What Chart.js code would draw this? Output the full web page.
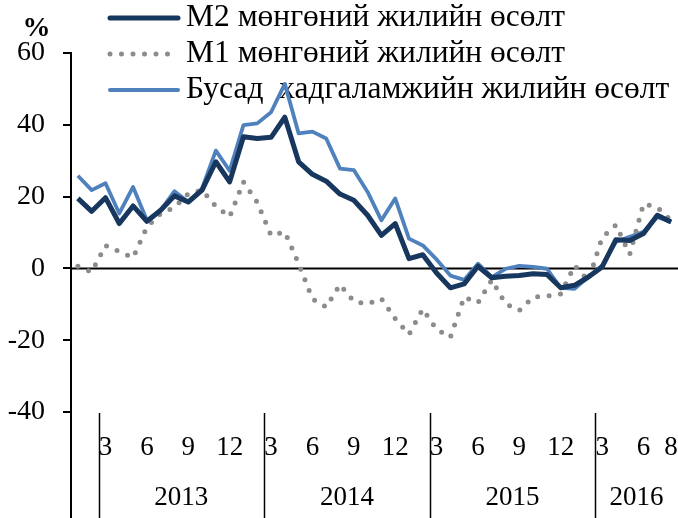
<!DOCTYPE html>
<html>
<head>
<meta charset="utf-8">
<script src="https://cdn.jsdelivr.net/npm/chart.js@4.4.1/dist/chart.umd.min.js"></script>
<style>
  html, body { margin: 0; padding: 0; background: #fff; }
</style>
</head>
<body>
<canvas id="myChart" width="678" height="518"></canvas>
<script>
// months Jan 2013 .. Aug 2016
var months = [1, 2, 3, 4, 5, 6, 7, 8, 9, 10, 11, 12,
              1, 2, 3, 4, 5, 6, 7, 8, 9, 10, 11, 12,
              1, 2, 3, 4, 5, 6, 7, 8, 9, 10, 11, 12,
              1, 2, 3, 4, 5, 6, 7, 8];
var monthTicks = ["", "", "3", "", "", "6", "", "", "9", "", "", "12",
                  "", "", "3", "", "", "6", "", "", "9", "", "", "12",
                  "", "", "3", "", "", "6", "", "", "9", "", "", "12",
                  "", "", "3", "", "", "6", "", "8"];
var years = ["2013", "2014", "2015", "2016"];
var yTicks = [-40, -20, 0, 20, 40, 60];

var seriesNames = ["М2 мөнгөний жилийн өсөлт", "М1 мөнгөний жилийн өсөлт", "Бусад  хадгаламжийн жилийн өсөлт"];

var m2 = [19.5, 15.9, 19.7, 12.5, 17.4, 13.1, 16.2, 20.2, 18.5, 21.8, 29.7, 24.1,
          36.7, 36.2, 36.5, 42.1, 29.7, 26.2, 24.3, 20.7, 19.0, 14.8, 9.2, 12.5,
          2.7, 3.8, -1.3, -5.4, -4.3, 0.6, -2.6, -2.2, -2.0, -1.5, -1.7, -5.4,
          -4.7, -2.4, 0.4, 8.0, 7.8, 9.7, 14.8, 12.9];
var m1 = [0.6, -1.0, 6.4, 4.7, 3.0, 11.5, 15.3, 17.0, 20.8, 21.8, 17.3, 14.4,
          24.1, 18.4, 9.2, 10.2, 1.3, -8.5, -10.8, -4.5, -9.2, -9.9, -8.4, -14.0,
          -18.4, -11.3, -17.0, -19.2, -8.0, -9.6, -3.2, -9.9, -11.7, -8.0, -7.7, -7.1,
          0.8, -3.4, 8.6, 12.1, 3.9, 18.0, 17.0, 13.4];
var other = [25.8, 21.8, 23.7, 15.3, 22.7, 13.4, 16.2, 21.5, 18.5, 22.3, 32.8, 27.2,
             39.9, 40.4, 43.5, 51.4, 37.6, 38.1, 36.2, 27.8, 27.4, 21.3, 13.4, 19.5,
             8.3, 6.4, 2.5, -2.0, -3.2, 1.3, -2.4, -0.1, 0.7, 0.4, -0.1, -5.4,
             -5.7, -2.4, 0.8, 7.4, 8.8, 10.2, 14.3, 12.9];

var FONT = "'Liberation Serif', 'Times New Roman', serif";
var darkBlue = "#17375E";
var gray = "#8C8C8C";
var lightBlue = "#4F81BD";

// extra drawing: zero line, legend, year row, separators
var extras = {
    id: "extras",
    beforeDatasetsDraw: function (chart) {
        var ctx = chart.ctx;
        var area = chart.chartArea;
        var y0 = chart.scales.y.getPixelForValue(0);
        ctx.save();
        ctx.strokeStyle = "#000";
        ctx.lineWidth = 2;
        ctx.beginPath();
        ctx.moveTo(area.left, y0);
        ctx.lineTo(area.right, y0);
        ctx.stroke();

        //legend
        var rows = [17, 53, 89];
        var styles = [
            { color: darkBlue, width: 5, dash: [] },
            { color: gray, width: 5, dash: [0, 11.5] },
            { color: lightBlue, width: 4, dash: [] }
        ];
        ctx.font = "31.5px " + FONT;
        ctx.textBaseline = "middle";
        ctx.textAlign = "left";
        for (var i = 0; i < 3; i++) {
            ctx.strokeStyle = styles[i].color;
            ctx.lineWidth = styles[i].width;
            ctx.lineCap = "round";
            ctx.setLineDash(styles[i].dash);
            ctx.beginPath();
            ctx.moveTo(110, rows[i] + 1);
            ctx.lineTo(178, rows[i] + 1);
            ctx.stroke();
            ctx.fillStyle = "#000";
            ctx.fillText(seriesNames[i], 186, rows[i] + 1);
        }
        ctx.restore();
    },
    afterDraw: function (chart) {
        var ctx = chart.ctx;
        var area = chart.chartArea;
        var xs = chart.scales.x;
        ctx.save();
        ctx.strokeStyle = "#000";
        ctx.lineWidth = 2;
        ctx.beginPath();
        ctx.moveTo(area.left, area.bottom);
        ctx.lineTo(area.left, chart.height);
        ctx.stroke();

        var seps = [];
        for (var i = 1; i < months.length; i++) {
            if (months[i] === 3) {
                seps.push((xs.getPixelForValue(i - 1) + xs.getPixelForValue(i)) / 2);
            }
        }
        ctx.lineWidth = 1.5;
        seps.forEach(function (sx) {
            ctx.beginPath();
            ctx.moveTo(Math.round(sx) + 0.5, area.bottom + 1);
            ctx.lineTo(Math.round(sx) + 0.5, chart.height);
            ctx.stroke();
        });

        ctx.fillStyle = "#000";
        ctx.font = "27px " + FONT;
        ctx.textAlign = "center";
        ctx.textBaseline = "middle";
        for (var j = 0; j < years.length; j++) {
            var right = j + 1 < seps.length ? seps[j + 1] : area.right;
            ctx.fillText(years[j], (seps[j] + right) / 2, 498);
        }

        ctx.font = "bold 28px " + FONT;
        ctx.fillText("%", 36.5, 29);
        ctx.restore();
    }
};

var ctx = document.getElementById("myChart").getContext("2d");
var moneyChart = new Chart(ctx, {
    type: "line",
    data: {
        labels: monthTicks,
        datasets: [{
            label: seriesNames[0],
            data: m2,
            borderColor: darkBlue,
            borderWidth: 5,
            pointRadius: 0,
            tension: 0,
            borderJoinStyle: "round"
        }, {
            label: seriesNames[1],
            data: m1,
            borderColor: gray,
            borderWidth: 5,
            borderDash: [0, 11.5],
            borderCapStyle: "round",
            pointRadius: 0,
            tension: 0
        }, {
            label: seriesNames[2],
            data: other,
            borderColor: lightBlue,
            borderWidth: 3.8,
            pointRadius: 0,
            tension: 0,
            borderJoinStyle: "round"
        }]
    },
    options: {
        responsive: false,
        animation: false,
        layout: { padding: { top: 53, left: 0, right: 0, bottom: 0 } },
        plugins: {
            legend: { display: false },
            tooltip: { enabled: false }
        },
        scales: {
            x: {
                type: "category",
                offset: true,
                grid: { display: false, drawTicks: true, tickLength: 20 },
                border: { display: false },
                ticks: {
                    autoSkip: false,
                    maxRotation: 0,
                    padding: 0,
                    color: "#000",
                    font: { family: FONT, size: 27 },
                    callback: function (val, idx) { return monthTicks[idx]; }
                },
                afterFit: function (scale) { scale.height = 106; }
            },
            y: {
                min: yTicks[0],
                max: yTicks[yTicks.length - 1],
                ticks: {
                    stepSize: 20,
                    padding: 18,
                    color: "#000",
                    font: { family: FONT, size: 28 }
                },
                grid: { drawOnChartArea: false, drawTicks: true, tickLength: 8, color: "#000", lineWidth: 2 },
                border: { display: true, color: "#000", width: 2 },
                afterFit: function (scale) { scale.width = 71; }
            }
        }
    },
    plugins: [extras]
});
</script>
</body>
</html>
